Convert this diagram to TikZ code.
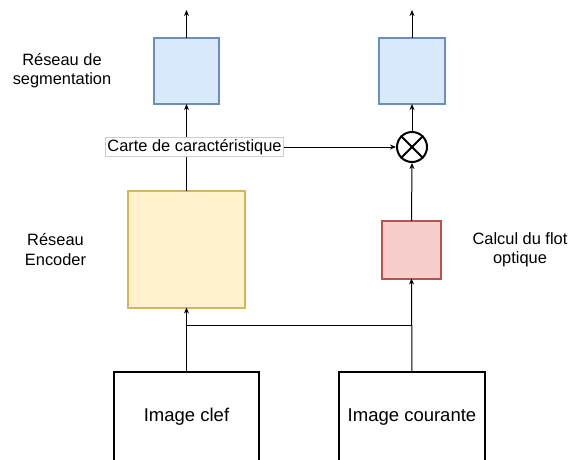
\documentclass[tikz,border=0pt]{standalone}
\usepackage{fontspec}
\setmainfont{Liberation Sans}
\usetikzlibrary{arrows.meta}
\definecolor{bluefill}{HTML}{DAE8FC}
\definecolor{bluedraw}{HTML}{6C8EBF}
\definecolor{yelfill}{HTML}{FFF2CC}
\definecolor{yeldraw}{HTML}{D6B656}
\definecolor{redfill}{HTML}{F8CECC}
\definecolor{reddraw}{HTML}{B85450}
\begin{document}
\begin{tikzpicture}[x=1pt,y=-1pt,
  box/.style={draw, line width=2pt, inner sep=0pt, outer sep=0pt},
  bluebox/.style={box, draw=bluedraw, fill=bluefill, minimum width=65pt, minimum height=66pt},
  lbl/.style={font=\fontsize{16.4}{19.2}\selectfont, align=center, inner sep=0pt},
  imgbox/.style={box, draw=black, fill=white, minimum width=145pt, minimum height=89pt, font=\fontsize{18.5}{22}\selectfont},
  arr/.style={line width=1pt, -{Stealth[length=6pt,width=5pt]}},
  conn/.style={line width=1pt}]
\useasboundingbox (0,0) rectangle (571,459);
\clip (0,0) rectangle (571,459);
\fill[white] (0,0) rectangle (571,459);

% top outputs
\coordinate (o1) at (186.5,10);
\coordinate (o2) at (412,10);

\node[bluebox] (seg1) at (186.5,71) {};
\node[bluebox, minimum width=66pt] (seg2) at (412,71) {};

\node[box, draw=yeldraw, fill=yelfill, minimum width=117pt, minimum height=117pt] (enc) at (186.5,249) {};
\node[box, draw=reddraw, fill=redfill, minimum width=59pt, minimum height=58pt] (flow) at (411.5,249.5) {};

\node[imgbox] (img1) at (186.5,416.7) {Image clef};
\node[imgbox, minimum width=146pt] (img2) at (412,416.7) {Image courante};

\coordinate (j1) at (186.5,325);
\coordinate (j2) at (412,325);

% connectors
\draw[arr] (seg1.north) -- (o1);
\draw[arr] (seg2.north) -- (o2);
\draw[arr] (enc.north) -- (seg1.south);
\draw[arr] (img1.north) -- (enc.south);
\draw[arr] (img2.north) -- (flow.south);
\draw[conn] (j2) -- (j1);

\node[circle, draw, line width=2pt, minimum size=30pt, inner sep=0pt, fill=white] (ot) at (412,147) {};
\draw[line width=2pt] (ot.45) -- (ot.225);
\draw[line width=2pt] (ot.135) -- (ot.315);
\draw[arr] (flow.north) -- (ot.south);
\draw[arr] (ot.north) -- (seg2.south);

\node[lbl, draw=black!20, fill=white, line width=0.8pt, inner xsep=2pt, inner ysep=2pt, minimum height=18pt] (carte) at (194.5,147) {Carte de caractéristique};
\draw[arr] (carte.east) -- (ot.west);

% side labels
\node[lbl] (lseg) at (62,71) {Réseau de\\segmentation};
\node[lbl] (lenc) at (55.5,249.5) {Réseau\\Encoder};
\node[lbl] (lflow) at (520,249.5) {Calcul du flot\\optique};
\end{tikzpicture}
\end{document}
